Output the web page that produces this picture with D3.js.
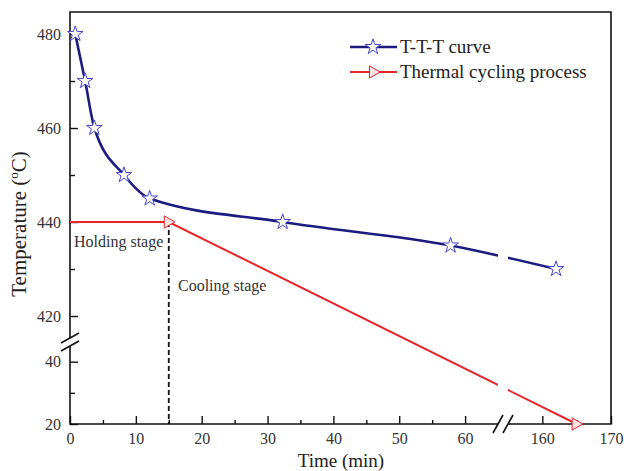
<!DOCTYPE html>
<html><head><meta charset="utf-8">
<script src="https://cdn.jsdelivr.net/npm/d3@7"></script>
<style>
html,body{margin:0;padding:0;background:#fff;}
text{font-family:"Liberation Serif","Times New Roman",serif;}
</style></head>
<body><svg id="c" width="624" height="471"></svg>
<script>
// ---- data ----
const tttTime = [0.8, 2.3, 3.7, 8.2, 12.1, 32.3, 57.8, 162];
const tttTemp = [480, 470, 460, 450, 445, 440, 435, 430];
const cycTime = [0, 15, 165];
const cycTemp = [440, 440, 20];
const xTicksLow = [0, 10, 20, 30, 40, 50, 60];
const xTicksHigh = [160, 170];
const xMinorLow = [5, 15, 25, 35, 45, 55];
const xMinorHigh = [165];
const yTicksHigh = [420, 440, 460, 480];
const yTicksLow = [20, 40];
const yMinorHigh = [430, 450, 470];
const yMinorLow = [30];
const seriesNames = ["T-T-T curve", "Thermal cycling process"];

const svg = d3.select("#c");
const L = 70, R = 611, T = 12, B = 424;
const xBreak = [498, 508];
const yBreak = [338, 346];

const x1 = d3.scaleLinear().domain([0, 65]).range([L, xBreak[0]]);
const x2 = d3.scaleLinear().domain([155, 170]).range([xBreak[1], R]);
const y1 = d3.scaleLinear().domain([414.26, 484.68]).range([343, T]);
const y2 = d3.scaleLinear().domain([20, 46]).range([B, 343]);
const X = v => v <= 100 ? x1(v) : x2(v);
const Y = v => v >= 300 ? y1(v) : y2(v);

const navy = "#1c1c80", starCol = "#4545d0", red = "#e8232a";
const FONT = "Liberation Serif, Times New Roman, serif";

// clip for break gap
const defs = svg.append("defs");
const cp = defs.append("clipPath").attr("id", "gap");
cp.append("rect").attr("x", 0).attr("y", 0).attr("width", xBreak[0]).attr("height", 471);
cp.append("rect").attr("x", xBreak[1]).attr("y", 0).attr("width", 624 - xBreak[1]).attr("height", 471);

// axes ticks
function styleAxis(g) {
  g.attr("font-family", FONT);
  g.select(".domain").remove();
  g.selectAll("line").attr("stroke", "#111").attr("stroke-width", 1.4);
  g.selectAll("text").attr("font-size", 16).attr("fill", "#333").attr("font-family", FONT);
}
svg.append("g").attr("transform", `translate(0,${B})`)
  .call(d3.axisBottom(x1).tickValues(xTicksLow).tickSize(-8).tickPadding(9).tickFormat(d3.format("d"))).call(styleAxis);
svg.append("g").attr("transform", `translate(0,${B})`)
  .call(d3.axisBottom(x2).tickValues(xTicksHigh).tickSize(-8).tickPadding(9).tickFormat(d3.format("d"))).call(styleAxis);
svg.append("g").attr("transform", `translate(0,${B})`)
  .call(d3.axisBottom(x1).tickValues(xMinorLow).tickSize(-4).tickFormat("")).call(styleAxis);
svg.append("g").attr("transform", `translate(0,${B})`)
  .call(d3.axisBottom(x2).tickValues(xMinorHigh).tickSize(-4).tickFormat("")).call(styleAxis);
svg.append("g").attr("transform", `translate(${L},0)`)
  .call(d3.axisLeft(y1).tickValues(yTicksHigh).tickSize(-8).tickPadding(9)).call(styleAxis);
svg.append("g").attr("transform", `translate(${L},0)`)
  .call(d3.axisLeft(y2).tickValues(yTicksLow).tickSize(-8).tickPadding(9)).call(styleAxis);
svg.append("g").attr("transform", `translate(${L},0)`)
  .call(d3.axisLeft(y1).tickValues(yMinorHigh).tickSize(-5).tickFormat("")).call(styleAxis);
svg.append("g").attr("transform", `translate(${L},0)`)
  .call(d3.axisLeft(y2).tickValues(yMinorLow).tickSize(-5).tickFormat("")).call(styleAxis);

// frame with breaks
const frame = svg.append("g").attr("stroke", "#111").attr("stroke-width", 1.6).attr("fill", "none");
frame.append("path").attr("d", `M${L},${yBreak[0]}V${T}H${R}V${B}H${xBreak[1]}`);
frame.append("path").attr("d", `M${xBreak[0]},${B}H${L}V${yBreak[1]}`);
// break marks
const bm = svg.append("g").attr("stroke", "#111").attr("stroke-width", 1.6);
bm.append("line").attr("x1", L - 9).attr("y1", yBreak[0] + 5).attr("x2", L + 9).attr("y2", yBreak[0] - 5);
bm.append("line").attr("x1", L - 9).attr("y1", yBreak[1] + 5).attr("x2", L + 9).attr("y2", yBreak[1] - 5);
bm.append("line").attr("x1", xBreak[0] - 5).attr("y1", B + 9).attr("x2", xBreak[0] + 5).attr("y2", B - 9);
bm.append("line").attr("x1", xBreak[1] - 5).attr("y1", B + 9).attr("x2", xBreak[1] + 5).attr("y2", B - 9);

// dashed vertical at end of holding
svg.append("line").attr("x1", X(cycTime[1])).attr("x2", X(cycTime[1]))
  .attr("y1", Y(cycTemp[1])).attr("y2", B)
  .attr("stroke", "#111").attr("stroke-width", 1.8).attr("stroke-dasharray", "5,3");

// red series (straight in screen space)
const cycPts = cycTime.map((t, i) => [X(t), Y(cycTemp[i])]);
svg.append("path").attr("d", d3.line()(cycPts)).attr("clip-path", "url(#gap)")
  .attr("fill", "none").attr("stroke", red).attr("stroke-width", 2);

// blue curve
const tttPts = tttTime.map((t, i) => [X(t), Y(tttTemp[i])]);
svg.append("path").attr("d", d3.line().curve(d3.curveMonotoneX)(tttPts)).attr("clip-path", "url(#gap)")
  .attr("fill", "none").attr("stroke", navy).attr("stroke-width", 2.6);

// markers
const star = d3.symbol().type(d3.symbolStar).size(75);
const tri = d3.symbol().type(d3.symbolTriangle).size(65);
svg.append("g").selectAll("path").data(tttPts).join("path")
  .attr("d", star).attr("transform", d => `translate(${d[0]},${d[1]})`)
  .attr("fill", "#fff").attr("stroke", starCol).attr("stroke-width", 1);
svg.append("g").selectAll("path").data(cycPts.slice(1)).join("path")
  .attr("d", tri).attr("transform", d => `translate(${d[0] - 1},${d[1]}) rotate(90)`)
  .attr("fill", "#fde3e3").attr("stroke", red).attr("stroke-width", 1);

// annotations
svg.append("text").attr("x", 74).attr("y", 247).attr("font-size", 16).attr("fill", "#333").text("Holding stage");
svg.append("text").attr("x", 178).attr("y", 291).attr("font-size", 16).attr("fill", "#333").text("Cooling stage");

// legend
const lg = svg.append("g");
[0, 1].forEach(i => {
  const yy = 47 + i * 25;
  lg.append("line").attr("x1", 350).attr("x2", 397).attr("y1", yy).attr("y2", yy)
    .attr("stroke", i === 0 ? navy : red).attr("stroke-width", i === 0 ? 2.6 : 2);
  lg.append("path").attr("d", i === 0 ? star : tri)
    .attr("transform", i === 0 ? `translate(373,${yy})` : `translate(373,${yy}) rotate(90)`)
    .attr("fill", i === 0 ? "#fff" : "#fde3e3").attr("stroke", i === 0 ? starCol : red).attr("stroke-width", 1);
  lg.append("text").attr("x", 400).attr("y", yy).attr("dy", "0.33em").attr("font-size", 19)
    .attr("fill", "#222").text(seriesNames[i]);
});

// axis titles
svg.append("text").attr("x", 341).attr("y", 467).attr("text-anchor", "middle")
  .attr("font-size", 19).attr("fill", "#222").text("Time (min)");
const yl = svg.append("text").attr("transform", "translate(26,224) rotate(-90)")
  .attr("text-anchor", "middle").attr("font-size", 21).attr("fill", "#222");
yl.append("tspan").text("Temperature (");
yl.append("tspan").attr("font-size", 13).attr("dy", "-0.6em").text("o");
yl.append("tspan").attr("dy", "0.38em").text("C)");
</script>
</body></html>
